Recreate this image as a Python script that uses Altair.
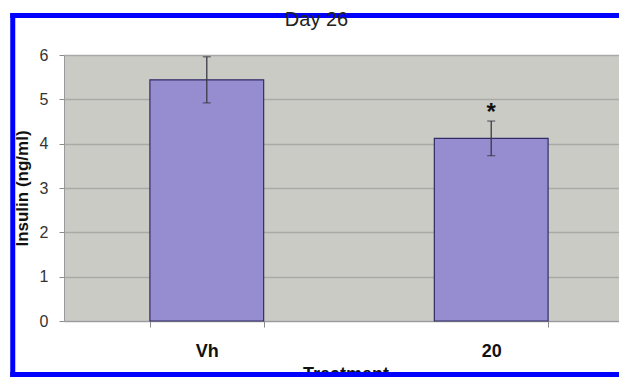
import altair as alt
import pandas as pd

# ---- data ----
treatments = ["Vh", "20"]
means = [5.44, 4.12]
errors = [0.52, 0.39]
significance = ["", "*"]
y_ticks = [0, 1, 2, 3, 4, 5, 6]

df = pd.DataFrame({
    "Treatment": treatments,
    "Insulin": means,
    "Err": errors,
    "Sig": significance,
})

FONT = "Liberation Sans"
W, H = 555, 266
BLUE = "#0000ff"

base = alt.Chart(df).transform_calculate(
    lo="datum.Insulin - datum.Err",
    hi="datum.Insulin + datum.Err",
)

x_enc = alt.X(
    "Treatment:N",
    sort=treatments,
    scale=alt.Scale(range=[0, 570], paddingInner=0.6, paddingOuter=0.302),
    axis=alt.Axis(
        title="Treatment",
        labelAngle=0,
        labelFont=FONT,
        labelFontSize=18,
        labelFontWeight="bold",
        labelColor="#111111",
        labelBaseline="alphabetic",
        labelPadding=29,
        tickSize=6,
        tickBand="extent",
        tickColor="#8a8a8a",
        domainColor="#9a9a9a",
        titleFont=FONT,
        titleFontSize=18,
        titleFontWeight="bold",
        titleColor="#111111",
        titleX=281.5,
        titleY=58.5,
        titleAlign="center",
        titleBaseline="alphabetic",
        grid=False,
        zindex=0,
    ),
)

y_scale = alt.Scale(domain=[0, 6], nice=False)
y_axis = alt.Axis(
    values=y_ticks,
    title="Insulin (ng/ml)",
    labelFont=FONT,
    labelFontSize=16,
    labelColor="#333333",
    labelPadding=11,
    tickSize=5,
    tickColor="#8a8a8a",
    domainColor="#9a9a9a",
    gridColor="#a9a9a6",
    gridWidth=1.5,
    titleFont=FONT,
    titleFontSize=17,
    titleFontWeight="bold",
    titleColor="#111111",
    titleX=-37,
    titleY=133,
    titleAngle=270,
    titleAlign="center",
    titleBaseline="alphabetic",
    zindex=0,
)

bars = base.mark_bar(fill="#958dcf", stroke="#302c63", strokeWidth=1.2).encode(
    x=x_enc,
    y=alt.Y("Insulin:Q", scale=y_scale, axis=y_axis),
)

err_rule = base.mark_rule(color="#3a3a48", strokeWidth=1.3).encode(
    x=alt.X("Treatment:N", sort=treatments),
    y="lo:Q",
    y2="hi:Q",
)
cap_hi = base.mark_tick(color="#3a3a48", orient="horizontal", size=8, thickness=1.3).encode(
    x=alt.X("Treatment:N", sort=treatments),
    y="hi:Q",
)
cap_lo = base.mark_tick(color="#3a3a48", orient="horizontal", size=8, thickness=1.3).encode(
    x=alt.X("Treatment:N", sort=treatments),
    y="lo:Q",
)
stars = base.mark_text(
    font=FONT, fontSize=24, fontWeight="bold", color="#111111",
    baseline="alphabetic", align="center", dy=-1,
).encode(
    x=alt.X("Treatment:N", sort=treatments),
    y="hi:Q",
    text="Sig:N",
)

one = pd.DataFrame({"f": [0]})
frame_left = alt.Chart(one).mark_rule(color=BLUE, strokeWidth=5).encode(
    x=alt.value(-51.25), y=alt.value(-42), y2=alt.value(H + 56)
)
frame_top = alt.Chart(one).mark_rule(color=BLUE, strokeWidth=5).encode(
    x=alt.value(-53.75), x2=alt.value(W + 20), y=alt.value(-39.5)
)
frame_bottom = alt.Chart(one).mark_rule(color=BLUE, strokeWidth=5).encode(
    x=alt.value(-53.75), x2=alt.value(W + 20), y=alt.value(H + 53.5)
)

chart = alt.layer(
    bars, err_rule, cap_hi, cap_lo, stars, frame_left, frame_top, frame_bottom
).properties(
    width=W,
    height=H,
    title=alt.Title(
        "Day 26",
        font=FONT,
        fontSize=20,
        fontWeight="normal",
        color="#222222",
        anchor="middle",
        frame="group",
        baseline="alphabetic",
        offset=-35.7,
        dx=-25,
    ),
    autosize=alt.AutoSizeParams(type="none"),
    padding={"left": 56, "top": 47, "right": 0, "bottom": 56},
).configure_view(
    fill="#cbcbc6",
    stroke="transparent",
)

chart.save("out.html", embed_options={"renderer": "svg", "actions": False})
